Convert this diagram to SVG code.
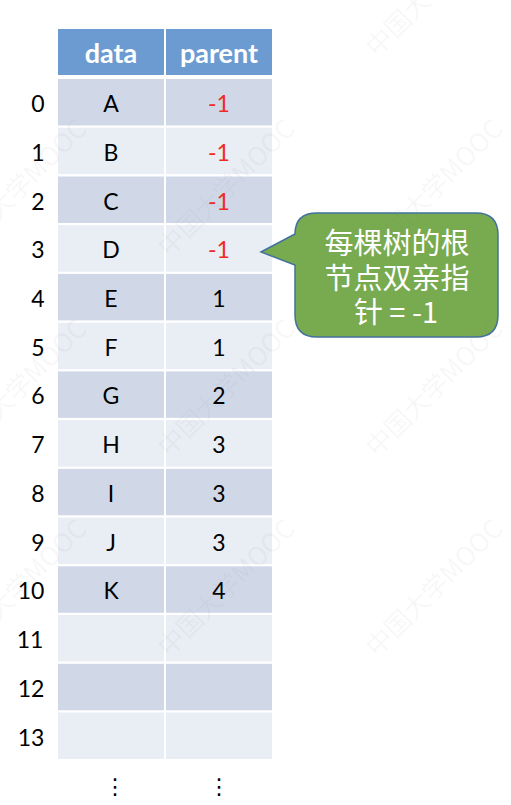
<svg xmlns="http://www.w3.org/2000/svg" width="511" height="805" viewBox="0 0 511 805">
<style>
.hd{fill:#6C9BD2}
.ev{fill:#D0D8E8}
.od{fill:#E9EDF4}
.ht{font-family:Lato,"Liberation Sans",sans-serif;font-weight:bold;font-size:27px;fill:#fff;text-anchor:middle}
.ct{font-family:Lato,"Liberation Sans",sans-serif;font-size:23px;fill:#000;text-anchor:middle}
.ix{font-family:Lato,"Liberation Sans",sans-serif;font-size:23px;fill:#000;text-anchor:middle}
.rd{fill:#F02A22}
.dots{font-family:"DejaVu Sans",sans-serif;font-size:22px;fill:#000;text-anchor:middle}
.co{fill:#78AA50;stroke:#41719C;stroke-width:1.5}
.cot{font-family:"Noto Sans CJK SC","Liberation Sans",sans-serif;font-size:29px;fill:#fff;text-anchor:middle}
.wm{font-family:"Noto Sans CJK SC",sans-serif;font-size:26px;fill:#808080;fill-opacity:0.07}
</style>
<rect width="511" height="805" fill="#fff"/>
<g id="table">
<g id="header">
<rect class="hd" x="58" y="29" width="106" height="46"/>
<rect class="hd" x="166" y="29" width="106" height="46"/>
<text class="ht" x="111" y="63">data</text>
<text class="ht" x="219" y="63">parent</text>
</g>
<g id="row0"><rect class="ev" x="58" y="79" width="106" height="46.5"/><rect class="ev" x="166" y="79" width="106" height="46.5"/><text class="ix" x="38" y="112">0</text><text class="ct" x="111" y="112">A</text><text class="ct rd" x="219" y="112">-1</text></g>
<g id="row1"><rect class="od" x="58" y="127.7" width="106" height="46.5"/><rect class="od" x="166" y="127.7" width="106" height="46.5"/><text class="ix" x="38" y="160.7">1</text><text class="ct" x="111" y="160.7">B</text><text class="ct rd" x="219" y="160.7">-1</text></g>
<g id="row2"><rect class="ev" x="58" y="176.5" width="106" height="46.5"/><rect class="ev" x="166" y="176.5" width="106" height="46.5"/><text class="ix" x="38" y="209.5">2</text><text class="ct" x="111" y="209.5">C</text><text class="ct rd" x="219" y="209.5">-1</text></g>
<g id="row3"><rect class="od" x="58" y="225.2" width="106" height="46.5"/><rect class="od" x="166" y="225.2" width="106" height="46.5"/><text class="ix" x="38" y="258.2">3</text><text class="ct" x="111" y="258.2">D</text><text class="ct rd" x="219" y="258.2">-1</text></g>
<g id="row4"><rect class="ev" x="58" y="273.9" width="106" height="46.5"/><rect class="ev" x="166" y="273.9" width="106" height="46.5"/><text class="ix" x="38" y="306.9">4</text><text class="ct" x="111" y="306.9">E</text><text class="ct" x="219" y="306.9">1</text></g>
<g id="row5"><rect class="od" x="58" y="322.7" width="106" height="46.5"/><rect class="od" x="166" y="322.7" width="106" height="46.5"/><text class="ix" x="38" y="355.7">5</text><text class="ct" x="111" y="355.7">F</text><text class="ct" x="219" y="355.7">1</text></g>
<g id="row6"><rect class="ev" x="58" y="371.4" width="106" height="46.5"/><rect class="ev" x="166" y="371.4" width="106" height="46.5"/><text class="ix" x="38" y="404.4">6</text><text class="ct" x="111" y="404.4">G</text><text class="ct" x="219" y="404.4">2</text></g>
<g id="row7"><rect class="od" x="58" y="420.1" width="106" height="46.5"/><rect class="od" x="166" y="420.1" width="106" height="46.5"/><text class="ix" x="38" y="453.1">7</text><text class="ct" x="111" y="453.1">H</text><text class="ct" x="219" y="453.1">3</text></g>
<g id="row8"><rect class="ev" x="58" y="468.8" width="106" height="46.5"/><rect class="ev" x="166" y="468.8" width="106" height="46.5"/><text class="ix" x="38" y="501.8">8</text><text class="ct" x="111" y="501.8">I</text><text class="ct" x="219" y="501.8">3</text></g>
<g id="row9"><rect class="od" x="58" y="517.6" width="106" height="46.5"/><rect class="od" x="166" y="517.6" width="106" height="46.5"/><text class="ix" x="38" y="550.6">9</text><text class="ct" x="111" y="550.6">J</text><text class="ct" x="219" y="550.6">3</text></g>
<g id="row10"><rect class="ev" x="58" y="566.3" width="106" height="46.5"/><rect class="ev" x="166" y="566.3" width="106" height="46.5"/><text class="ix" x="31" y="599.3">10</text><text class="ct" x="111" y="599.3">K</text><text class="ct" x="219" y="599.3">4</text></g>
<g id="row11"><rect class="od" x="58" y="615" width="106" height="46.5"/><rect class="od" x="166" y="615" width="106" height="46.5"/><text class="ix" x="30" y="648">11</text></g>
<g id="row12"><rect class="ev" x="58" y="663.8" width="106" height="46.5"/><rect class="ev" x="166" y="663.8" width="106" height="46.5"/><text class="ix" x="31" y="696.8">12</text></g>
<g id="row13"><rect class="od" x="58" y="712.5" width="106" height="46.5"/><rect class="od" x="166" y="712.5" width="106" height="46.5"/><text class="ix" x="31" y="745.5">13</text></g>
<g id="more"><text class="dots" x="115" y="794">⋮</text><text class="dots" x="219" y="794">⋮</text></g>
</g>
<g id="callout">
<path class="co" d="M317,213 H476 Q498,213 498,235 V315 Q498,337 476,337 H317 Q295,337 295,315 V265 L261,252 L295,234 Q295,213 317,213 Z"/>
<text class="cot" x="397" y="254">每棵树的根</text>
<text class="cot" x="397" y="289">节点双亲指</text>
<text class="cot" x="396" y="323">针 = -1</text>
</g>
<g id="connectors"/>
<g id="watermark">
<text class="wm" transform="translate(377,58) rotate(-45)">中国大学MOOC</text>
<text class="wm" transform="translate(377,258) rotate(-45)">中国大学MOOC</text>
<text class="wm" transform="translate(377,458) rotate(-45)">中国大学MOOC</text>
<text class="wm" transform="translate(377,658) rotate(-45)">中国大学MOOC</text>
<text class="wm" transform="translate(169,258) rotate(-45)">中国大学MOOC</text>
<text class="wm" transform="translate(169,458) rotate(-45)">中国大学MOOC</text>
<text class="wm" transform="translate(169,658) rotate(-45)">中国大学MOOC</text>
<text class="wm" transform="translate(-39,258) rotate(-45)">中国大学MOOC</text>
<text class="wm" transform="translate(-39,458) rotate(-45)">中国大学MOOC</text>
<text class="wm" transform="translate(-39,658) rotate(-45)">中国大学MOOC</text>
</g>
</svg>
